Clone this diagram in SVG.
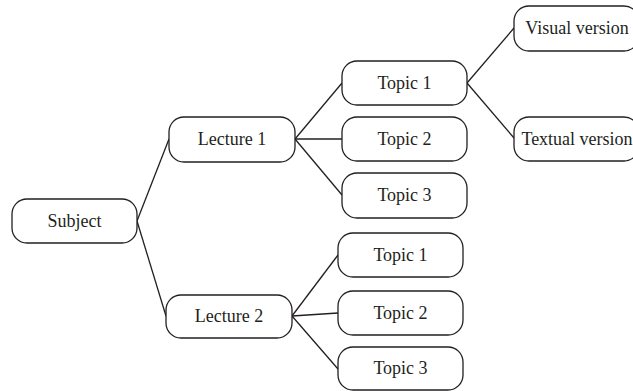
<svg xmlns="http://www.w3.org/2000/svg" width="633" height="391" viewBox="0 0 633 391">
<style>
rect.n{fill:#fff;stroke:#231f20;stroke-width:1.3}
text{font-family:"Liberation Serif","DejaVu Serif",serif;font-size:18px;fill:#231f20;text-anchor:middle}
#connectors line{stroke:#231f20;stroke-width:1.3}
</style>
<rect width="633" height="391" fill="#fff"/>
<g id="connectors">
<line x1="137" y1="221" x2="169" y2="139"/>
<line x1="137" y1="221" x2="166" y2="316"/>
<line x1="295" y1="139" x2="342" y2="83"/>
<line x1="295" y1="139" x2="342" y2="139"/>
<line x1="295" y1="139" x2="342" y2="195"/>
<line x1="292" y1="316" x2="338" y2="255"/>
<line x1="292" y1="316" x2="338" y2="313"/>
<line x1="292" y1="316" x2="338" y2="369"/>
<line x1="467" y1="83" x2="514" y2="28"/>
<line x1="467" y1="83" x2="514" y2="138"/>
</g>
<g id="subject"><rect class="n" x="12" y="199" width="125" height="44" rx="15"/><text x="74.5" y="227">Subject</text></g>
<g id="lecture1"><rect class="n" x="169" y="117" width="126" height="45" rx="15"/><text x="232" y="145">Lecture 1</text></g>
<g id="lecture2"><rect class="n" x="166" y="295" width="126" height="43" rx="15"/><text x="229" y="322">Lecture 2</text></g>
<g id="l1topic1"><rect class="n" x="342" y="61" width="125" height="44" rx="15"/><text x="404.5" y="89">Topic 1</text></g>
<g id="l1topic2"><rect class="n" x="342" y="117" width="125" height="44" rx="15"/><text x="404.5" y="145">Topic 2</text></g>
<g id="l1topic3"><rect class="n" x="342" y="173" width="125" height="45" rx="15"/><text x="404.5" y="201">Topic 3</text></g>
<g id="l2topic1"><rect class="n" x="338" y="233" width="125" height="44" rx="15"/><text x="400.5" y="261">Topic 1</text></g>
<g id="l2topic2"><rect class="n" x="338" y="291" width="125" height="44" rx="15"/><text x="400.5" y="319">Topic 2</text></g>
<g id="l2topic3"><rect class="n" x="338" y="347" width="125" height="43" rx="15"/><text x="400.5" y="374">Topic 3</text></g>
<g id="visual"><rect class="n" x="514" y="6" width="125" height="45" rx="15"/><text x="577" y="34">Visual version</text></g>
<g id="textual"><rect class="n" x="514" y="117" width="125" height="44" rx="15"/><text x="577" y="145">Textual version</text></g>
</svg>
